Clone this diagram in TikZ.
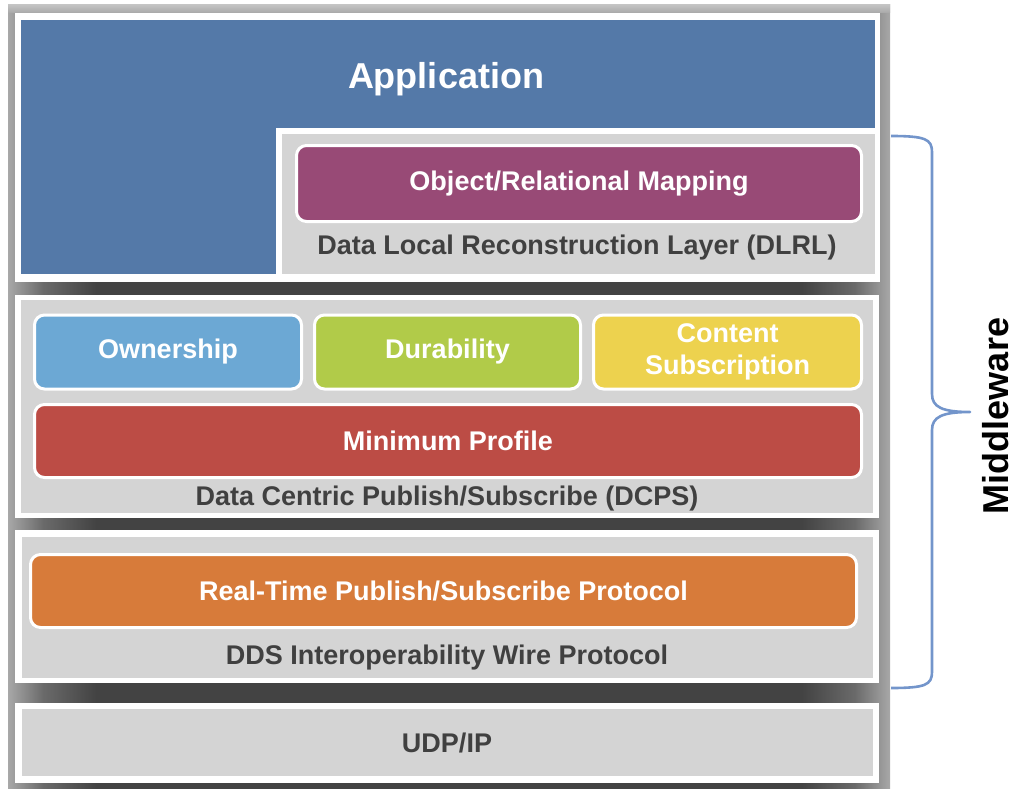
\documentclass[tikz,border=0pt]{standalone}
\usepackage{fontspec}
\setmainfont{Liberation Sans}
\definecolor{fedge}{HTML}{A8A8A8}
\definecolor{fmid}{HTML}{6A6A6A}
\definecolor{fdark}{HTML}{434343}
\definecolor{appblue}{HTML}{5479A8}
\definecolor{pgray}{HTML}{D4D4D4}
\definecolor{lblgray}{HTML}{404040}
\definecolor{ormpurple}{HTML}{984A76}
\definecolor{ownblue}{HTML}{6CA8D4}
\definecolor{durgreen}{HTML}{B1CB49}
\definecolor{conyellow}{HTML}{EDD24E}
\definecolor{minred}{HTML}{BC4C45}
\definecolor{rtpsorange}{HTML}{D77B3A}
\definecolor{bracecol}{HTML}{7395CB}
\pgfdeclarehorizontalshading{frameband}{100bp}{color(0bp)=(fedge); color(25bp)=(fedge); color(27bp)=(fmid); color(30bp)=(fdark); color(70bp)=(fdark); color(73bp)=(fmid); color(75bp)=(fedge); color(100bp)=(fedge)}
\begin{document}
\begin{tikzpicture}[x=1pt,y=-1pt,
  bigfont/.style={font=\fontsize{36}{40}\selectfont\bfseries},
  midfont/.style={font=\fontsize{27}{31}\selectfont\bfseries},
  colbox/.style={draw=white, line width=3pt, rounded corners=10pt, text=white, midfont, align=center, inner sep=0pt},
  lbl/.style={text=lblgray, midfont, inner sep=0pt},
  whitebox/.style={fill=white},
  graybox/.style={fill=pgray},
  bracepath/.style={draw=bracecol, line width=2.6pt, line join=round}
]
\useasboundingbox (0,0) rectangle (1014,789);

% frame with shadow-like gradient
\shade[shading=frameband] (8,5) rectangle (890,789);
\shade[top color=fedge!70!white, bottom color=fedge] (8,5) rectangle (890,13);

% Application panel
\fill[whitebox] (15,13) rectangle (880,282);
\fill[appblue] (21,20) rectangle (875,274);
\fill[whitebox] (276,128) rectangle (880,282);
\fill[graybox] (282,134) rectangle (875,274);
\node[text=white, bigfont] (app) at (446,79) {Application};
\node[colbox, fill=ormpurple, minimum width=565pt, minimum height=76pt] (orm) at (579,183.5) {Object/Relational Mapping};
\node[lbl] (dlrl) at (577,248) {Data Local Reconstruction Layer (DLRL)};

% DCPS panel
\fill[whitebox] (15,295) rectangle (879,518);
\fill[graybox] (21,300) rectangle (873,513);
\node[colbox, fill=ownblue, minimum width=267pt, minimum height=74pt] (own) at (168,352) {Ownership};
\node[colbox, fill=durgreen, minimum width=266pt, minimum height=74pt] (dur) at (447.5,352) {Durability};
\node[colbox, fill=conyellow, minimum width=268pt, minimum height=74pt] (con) at (727.5,352) {Content\\[1pt]Subscription};
\node[colbox, fill=minred, minimum width=827pt, minimum height=73pt] (minp) at (448,441) {Minimum Profile};
\node[lbl] (dcps) at (447,499) {Data Centric Publish/Subscribe (DCPS)};

% DDSI panel
\fill[whitebox] (15,530) rectangle (879,683);
\fill[graybox] (22,537) rectangle (873,678);
\node[colbox, fill=rtpsorange, minimum width=826pt, minimum height=73pt] (rtps) at (443.5,591) {Real-Time Publish/Subscribe Protocol};
\node[lbl] (ddsi) at (447,658) {DDS Interoperability Wire Protocol};

% UDP/IP panel
\fill[whitebox] (15,703) rectangle (879,783);
\fill[graybox] (22,709) rectangle (873,776);
\node[lbl] (udp) at (447,743) {UDP/IP};

% Middleware brace
\coordinate (btop) at (891,136);
\coordinate (btip) at (970,412);
\coordinate (bbot) at (891,688);
\draw[bracepath] (btop) .. controls (925,136) and (932,139) .. (932,152)
  -- (932,394) .. controls (932,407) and (942,412) .. (btip)
  .. controls (942,412) and (932,417) .. (932,430)
  -- (932,672) .. controls (932,685) and (925,688) .. (bbot);
\node[bigfont, text=black, rotate=90, inner sep=0pt] (mw) at (996,416) {Middleware};
\end{tikzpicture}
\end{document}
